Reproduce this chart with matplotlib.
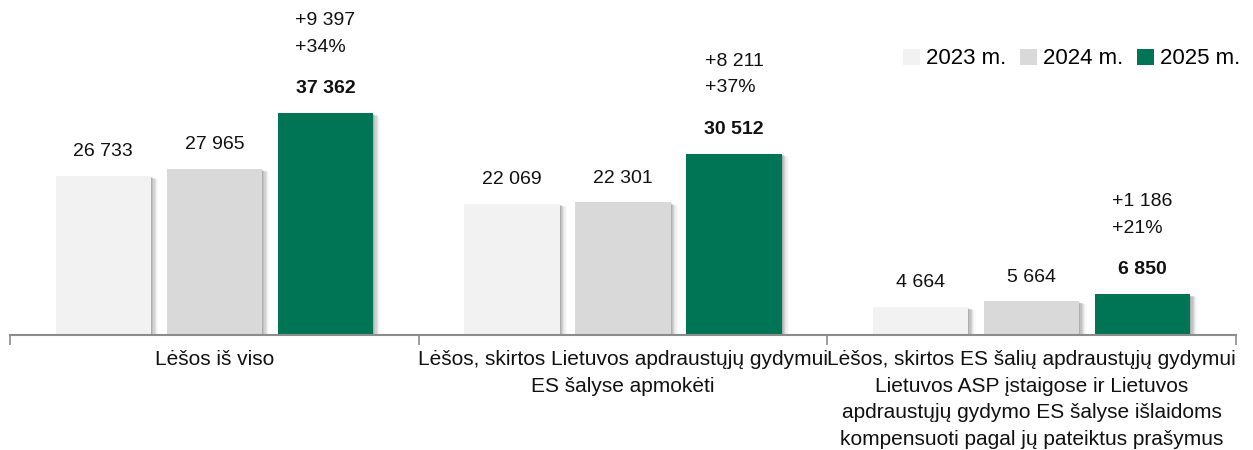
import matplotlib.pyplot as plt
import numpy as np

plt.rcParams['font.family'] = ['Liberation Sans', 'DejaVu Sans']

categories = [
    "Lėšos iš viso",
    "Lėšos, skirtos Lietuvos apdraustųjų gydymui\nES šalyse apmokėti",
    "Lėšos, skirtos ES šalių apdraustųjų gydymui\nLietuvos ASP įstaigose ir Lietuvos\n"
    "apdraustųjų gydymo ES šalyse išlaidoms\nkompensuoti pagal jų pateiktus prašymus",
]
years = ["2023 m.", "2024 m.", "2025 m."]
v2023 = [26733, 22069, 4664]
v2024 = [27965, 22301, 5664]
v2025 = [37362, 30512, 6850]
diff_abs = ["+9 397", "+8 211", "+1 186"]
diff_pct = ["+34%", "+37%", "+21%"]

colors = ["#f2f2f2", "#d9d9d9", "#007556"]


def fmt(v):
    return f"{v:,}".replace(",", " ")


fig = plt.figure(figsize=(12.53, 4.5), dpi=100)
ax = fig.add_axes([10 / 1253, 115 / 450, 1226 / 1253, 335 / 450])

x = np.arange(len(categories))
width = 0.2325
step = 0.2716
series = [v2023, v2024, v2025]

for i, vals in enumerate(series):
    pos = x + (i - 1) * step
    # soft drop shadow
    for k, a in enumerate([0.10, 0.08, 0.07, 0.05, 0.04, 0.02]):
        dx = 0.003 + k * 0.003
        ax.bar(pos + dx, vals, width=width, bottom=-150 - k * 70,
               color="black", alpha=a, linewidth=0, zorder=1)
    ax.bar(pos, vals, width=width, color=colors[i], linewidth=0,
           zorder=2, label=years[i])
    for p, v in zip(pos, vals):
        ax.annotate(fmt(v), (p, v), xytext=(0, 17.5), textcoords="offset points",
                    ha="center", va="center", fontsize=14,
                    fontweight="bold" if i == 2 else "normal", color="#111111")

pos3 = x + step
for p, v, da, dp in zip(pos3, v2025, diff_abs, diff_pct):
    ax.annotate(da + "\n" + dp, (p, v), xytext=(0, 57), textcoords="offset points",
                ha="center", va="center", multialignment="left",
                linespacing=1.75, fontsize=14, color="#111111")

ax.set_xlim(-0.5, 2.5)
ax.set_ylim(0, 335 / 222 * 37362)

for s in ["top", "right", "left"]:
    ax.spines[s].set_visible(False)
ax.spines["bottom"].set_color("#8c8c8c")
ax.spines["bottom"].set_linewidth(1.5)
ax.set_yticks([])

ax.set_xticks(x)
ax.set_xticklabels(categories, fontsize=15, color="#111111", linespacing=1.5)
ax.tick_params(axis="x", which="major", length=0, pad=11)
ax.set_xticks([-0.5, 0.5, 1.5, 2.5], minor=True)
ax.tick_params(axis="x", which="minor", length=7, width=1.2, color="#8c8c8c")

ax.legend(loc="upper right", bbox_to_anchor=(1.02, 0.915), ncol=3, frameon=False,
          fontsize=16, handlelength=0.75, handleheight=0.75, handletextpad=0.3,
          columnspacing=0.6)

fig.savefig("out.png", dpi=100)
